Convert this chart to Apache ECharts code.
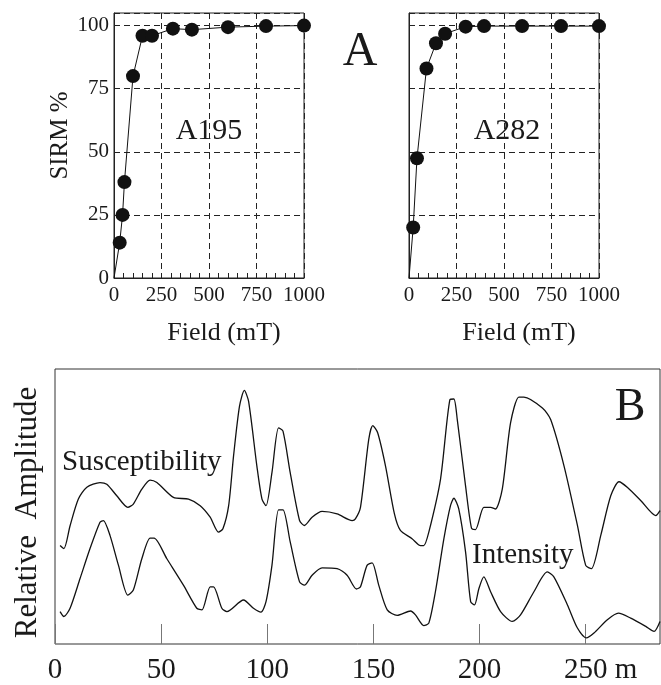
<!DOCTYPE html>
<html>
<head>
<meta charset="utf-8">
<script src="https://cdn.jsdelivr.net/npm/echarts@6/dist/echarts.min.js"></script>
<style>
html,body{margin:0;padding:0;background:#fff;}
#chart{width:661px;height:685px;}
</style>
</head>
<body>
<div id="chart"></div>
<script>
// ---- Panel A: IRM acquisition ----
const fieldA195 = [0, 30, 45, 55, 100, 150, 200, 310, 410, 600, 800, 1000];
const sirmA195  = [0, 14, 25, 38, 80, 96, 96, 98.8, 98.4, 99.4, 99.8, 100];
const fieldA282 = [0, 22, 42, 92, 142, 190, 298, 395, 595, 800, 1000];
const sirmA282  = [0, 20, 47.4, 83, 93, 96.8, 99.6, 99.8, 99.8, 99.8, 99.8];
const fieldTicks = [0, 250, 500, 750, 1000];
const sirmTicks = [0, 25, 50, 75, 100];

// ---- Panel B: profiles ----
const distS = [2.4,4.2,7.1,11,15,21.2,24.4,29.1,34.3,36.9,40.9,44.8,48,55.8,62.9,68.4,73.1,77,79.1,81.8,84.1,86.9,89.2,91.2,95.1,97.5,99.4,102.2,105.3,107.4,110.8,115.2,117.5,121.1,125.8,132.9,140,141.5,143.9,147.8,149.7,152,155.7,159.9,162.7,168.2,172.2,173.7,176.1,181.6,186,187.9,189.5,193.4,196.2,198.1,202,205.2,207.5,210.7,214.6,218.5,220.9,229.6,233.5,239.8,246.1,250,252.7,257.1,261.8,265.7,269.7,276,283,285];
const susceptibility = [35.8,34.7,43,52.7,57,58.7,58.1,53.9,49.7,50.9,56.3,59.6,58.7,53.3,52.7,50.3,46.1,40.7,41.9,50.3,68.3,86.4,92.2,88.2,64.7,52.7,50.3,62.3,78.6,77.4,62.3,44.9,43.1,46.1,48.2,47.3,44.9,45.5,49.7,74.4,79.4,76.8,64.7,47.3,41.3,38.3,35.8,35.8,40.7,59.9,88.8,89.1,81.6,57.5,42.1,41.6,49.7,49.7,49.1,56.3,80.4,89.8,89.8,85.8,81.6,64.7,43.1,28.6,27.4,39.5,53.9,59,56.9,52.1,46.7,48.5];
const distI = [2.4,4.2,7.1,11.8,16.5,21.2,22.8,25.9,29.9,34.3,36.9,40.9,44.8,46.7,52.7,60.5,66.8,69.2,73.1,74.7,78.6,81,88.8,93.5,97,99.4,102.2,105.3,107.4,110.8,115.2,117.5,121.1,125.8,132.9,137.6,142,143.9,147,149.4,152.5,156.5,161.2,167.5,169.8,173.7,176.1,179.2,183.2,186.3,187.9,190.2,193.4,195.8,197.6,199.7,202,205.2,209.9,215.4,219.3,225.6,231.9,235,241.4,246.1,250.3,253.9,260.2,265.4,271.2,278.3,282.2,285];
const intensity = [11.8,10,13,23.8,34.7,44.3,44.9,39.5,28.6,17.8,19.6,31,38.5,38.5,31,21.4,13,12.4,20.8,20.8,13,11.8,16,13,11.6,15.4,28.6,48.8,48.8,37.1,22.6,21.4,25,27.7,27.4,25,20,20.8,28.6,29.5,21.4,12.4,10.4,12,10.6,6.7,7.6,19,38.3,50.3,53,49.1,33.5,15.4,14.2,20.2,24.4,19,11.8,8.2,10.6,19,26.2,24.4,14.2,5.8,2.2,4,8.8,11.2,9.4,6.4,4.6,8.2];
const distTicks = [0, 50, 100, 150, 200, 250];

const FONT = 'Liberation Serif';
const INK = '#1a1a1a';

function pairs(xs, ys) { return xs.map((x, i) => [x, ys[i]]); }
function irmData(xs, ys) {
  return xs.map((x, i) => (i === 0 ? { value: [x, ys[i]], symbol: 'none' } : [x, ys[i]]));
}

const dashed = { show: true, lineStyle: { color: '#222', type: [6, 4], width: 1 } };

function irmXAxis(idx) {
  return {
    gridIndex: idx, type: 'value', min: 0, max: 1000, interval: 250,
    axisLine: { show: true, lineStyle: { color: '#222', width: 1 } },
    axisTick: { show: true, inside: true, length: 5, lineStyle: { color: '#222' } },
    minorTick: { show: true, splitNumber: 5, length: 5, lineStyle: { color: '#222' } },
    splitLine: dashed,
    axisLabel: {
      margin: 7, fontFamily: FONT, fontSize: 21, color: INK,
      formatter: v => (fieldTicks.indexOf(v) >= 0 ? String(v) : '')
    },
    name: 'Field (mT)', nameLocation: 'middle', nameGap: 42,
    nameTextStyle: { fontFamily: FONT, fontSize: 26, color: INK, padding: [0, 0, 0, 30] }
  };
}
function irmYAxis(idx, labels) {
  const ax = {
    gridIndex: idx, type: 'value', min: 0, max: 105, interval: 25,
    axisLine: { show: true, lineStyle: { color: '#222', width: 1 } },
    axisTick: { show: false },
    splitLine: dashed,
    axisLabel: {
      show: labels, margin: 5, fontFamily: FONT, fontSize: 21, color: INK,
      formatter: v => (sirmTicks.indexOf(v) >= 0 ? String(v) : '')
    }
  };
  if (labels) {
    ax.name = 'SIRM %';
    ax.nameLocation = 'middle';
    ax.nameGap = 41;
    ax.nameTextStyle = { fontFamily: FONT, fontSize: 25, color: INK, padding: [0, 0, 0, 20] };
  }
  return ax;
}

const chart = echarts.init(document.getElementById('chart'), null, { renderer: 'canvas' });
chart.setOption({
  backgroundColor: '#fff',
  animation: false,
  grid: [
    { left: 114, top: 13, width: 190, height: 265, show: true, borderColor: '#222', borderWidth: 1 },
    { left: 409, top: 13, width: 190, height: 265, show: true, borderColor: '#222', borderWidth: 1 },
    { left: 55, top: 369, width: 605, height: 277, show: true, borderColor: '#333', borderWidth: 1 }
  ],
  xAxis: [
    irmXAxis(0),
    irmXAxis(1),
    {
      gridIndex: 2, type: 'value', min: 0, max: 285, interval: 50,
      axisLine: { show: false },
      axisTick: { show: true, inside: true, length: 20, lineStyle: { color: '#777', width: 1 } },
      splitLine: { show: false },
      axisLabel: {
        margin: 12, fontFamily: FONT, fontSize: 29, color: INK, showMaxLabel: false,
        formatter: v => (v === 250 ? '{u|250 m}' : (distTicks.indexOf(v) >= 0 ? String(v) : '')),
        rich: { u: { fontFamily: FONT, fontSize: 29, color: INK, padding: [0, 0, 0, 30] } }
      }
    }
  ],
  yAxis: [
    irmYAxis(0, true),
    irmYAxis(1, false),
    {
      gridIndex: 2, type: 'value', min: 0, max: 100,
      axisLine: { show: false }, axisTick: { show: false }, axisLabel: { show: false },
      splitLine: { show: false },
      name: 'Relative  Amplitude', nameLocation: 'middle', nameGap: 12,
      nameTextStyle: { fontFamily: FONT, fontSize: 31, color: INK, padding: [0, 12, 0, 0] }
    }
  ],
  series: [
    {
      type: 'line', xAxisIndex: 0, yAxisIndex: 0, data: irmData(fieldA195, sirmA195),
      symbol: 'circle', symbolSize: 14, itemStyle: { color: '#111' },
      lineStyle: { color: '#111', width: 1 }
    },
    {
      type: 'line', xAxisIndex: 1, yAxisIndex: 1, data: irmData(fieldA282, sirmA282),
      symbol: 'circle', symbolSize: 14, itemStyle: { color: '#111' },
      lineStyle: { color: '#111', width: 1 }
    },
    {
      type: 'line', xAxisIndex: 2, yAxisIndex: 2, data: pairs(distS, susceptibility),
      symbol: 'none', smooth: 0.25, lineStyle: { color: '#111', width: 1.3 }
    },
    {
      type: 'line', xAxisIndex: 2, yAxisIndex: 2, data: pairs(distI, intensity),
      symbol: 'none', smooth: 0.25, lineStyle: { color: '#111', width: 1.3 }
    }
  ],
  graphic: [
    { type: 'text', x: 360, y: 52, style: { text: 'A', fontFamily: FONT, fontSize: 48, fill: INK, textAlign: 'center', textVerticalAlign: 'middle' } },
    { type: 'text', x: 209, y: 131, style: { text: 'A195', fontFamily: FONT, fontSize: 30, fill: INK, textAlign: 'center', textVerticalAlign: 'middle' } },
    { type: 'text', x: 507, y: 131, style: { text: 'A282', fontFamily: FONT, fontSize: 30, fill: INK, textAlign: 'center', textVerticalAlign: 'middle' } },
    { type: 'text', x: 630, y: 408, style: { text: 'B', fontFamily: FONT, fontSize: 46, fill: INK, textAlign: 'center', textVerticalAlign: 'middle' } },
    { type: 'text', x: 62, y: 462, style: { text: 'Susceptibility', fontFamily: FONT, fontSize: 29, fill: INK, textAlign: 'left', textVerticalAlign: 'middle' } },
    { type: 'text', x: 472, y: 555, style: { text: 'Intensity', fontFamily: FONT, fontSize: 29, fill: INK, textAlign: 'left', textVerticalAlign: 'middle' } }
  ]
});
</script>
</body>
</html>
